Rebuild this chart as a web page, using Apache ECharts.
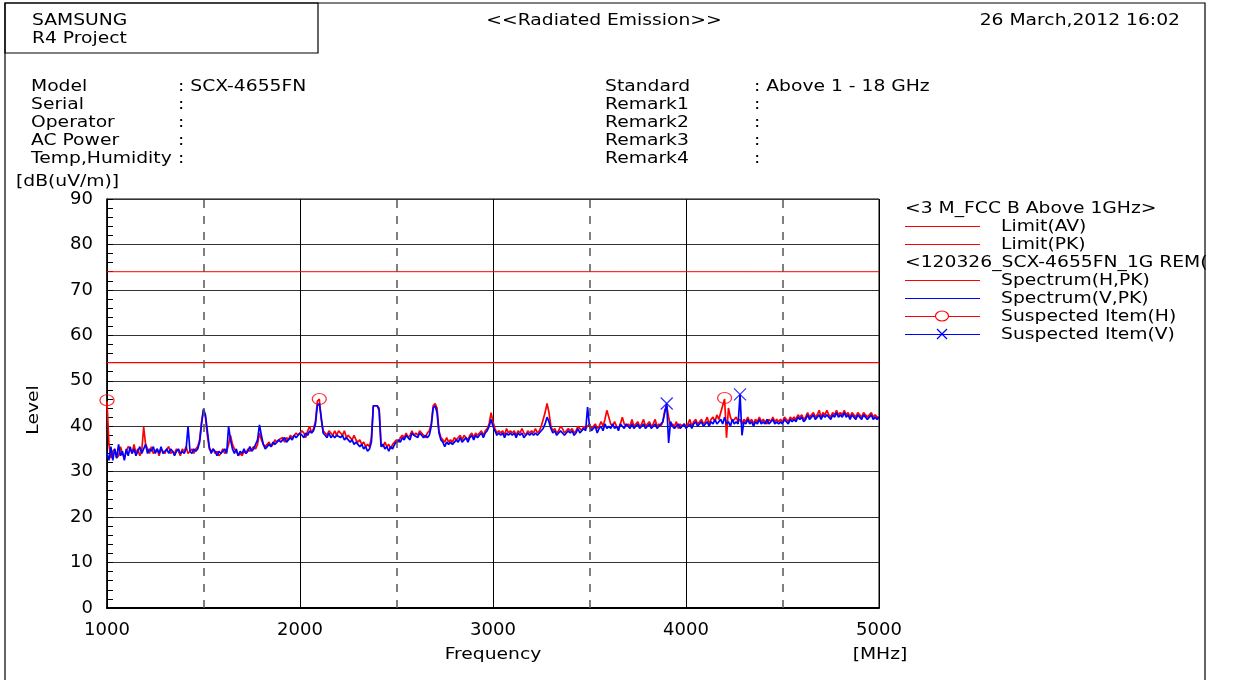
<!DOCTYPE html>
<html>
<head>
<meta charset="utf-8">
<script src="https://cdn.jsdelivr.net/npm/echarts@6/dist/echarts.min.js"></script>
<style>
  html, body { margin: 0; padding: 0; background: #fff; }
  #chart { width: 1243px; height: 680px; }
</style>
</head>
<body>
<div id="chart"></div>
<script>
// frequency sweep: 1000 .. 5000 MHz, one reading every 10 MHz
const freqStart = 1000
const freqStep = 10

// Spectrum(H,PK), dB(uV/m), one row = 100 MHz
const specH = [
  45.5, 36, 33, 34.5, 35, 33, 33.5, 35.5, 34, 33,
  34.5, 35.5, 35, 34, 36, 34, 35, 33.5, 34.5, 39.8,
  36, 35, 34, 35.5, 34, 34.5, 35, 33.5, 35, 34.5,
  34, 35, 35.5, 34, 34.5, 34, 35, 34.5, 33.5, 35,
  34.5, 35.5, 34, 34.5, 35, 34, 35, 35.5, 37, 41,
  43.5, 42, 38, 35, 34.5, 35, 34, 34.5, 33.5, 34,
  35, 34, 34.5, 36, 38, 36, 35, 34.5, 33.5, 34,
  33.5, 34.5, 34, 35, 34.5, 35, 35.5, 35, 36, 38.5,
  37, 36, 35.5, 36, 36.5, 35.5, 36, 37, 36.5, 37,
  37, 37.5, 36.5, 37.5, 37, 38, 37.5, 38, 38.5, 38,
  38, 39, 38.5, 37.5, 39, 40, 38.5, 39.5, 41, 45.5,
  46, 41.5, 39, 38.5, 38, 39, 38.5, 38, 39, 38,
  39, 38.5, 38, 39, 37.5, 38, 37.5, 37, 38, 37,
  36.5, 37, 36, 36.5, 35.5, 36, 35.5, 37.5, 44.5, 44.7,
  44.5, 44, 36, 35.5, 36.5, 35.5, 36, 35, 36, 36.5,
  37, 36.5, 37.5, 38, 37.5, 38.5, 37.5, 38, 39, 38,
  38.5, 38, 39, 38.5, 38, 37.5, 38.5, 39, 40.5, 44.5,
  45, 44, 39, 37.5, 37, 36.5, 37.5, 36.5, 37, 36.5,
  37.5, 37, 37.5, 38, 37, 38, 37.5, 37, 38, 38.5,
  37.5, 38.5, 38, 38.5, 39, 38, 39, 39.5, 40.5, 43,
  41, 39.5, 38.5, 39, 38.5, 39, 38, 39.5, 38.5, 39,
  38.5, 39, 38, 39, 38.5, 39.5, 38.5, 38, 39, 38.5,
  39, 38.5, 39.5, 38.5, 39, 40, 41.5, 43, 45, 43,
  40, 39, 39.5, 38.5, 39, 40, 39.5, 38.5, 39, 39.5,
  39, 39.5, 38.5, 39, 40, 39.5, 39, 40, 39.5, 40,
  40.5, 39.5, 40, 40.5, 39.5, 40, 41, 40, 41.5, 43.5,
  42, 40.5, 40, 41, 40, 39.5, 40.5, 42, 40.5, 40,
  40.5, 40, 41.5, 40, 40.5, 41, 40, 40.5, 41.5, 40,
  40.5, 41, 40, 40.5, 41.5, 40, 40.5, 40, 41, 43.5,
  44.5, 42, 40, 40.5, 40, 41, 39.5, 40.5, 40, 40.5,
  40, 40.5, 41.5, 40, 41, 41.5, 40.5, 41, 41.5, 40.5,
  41, 42, 40.5, 41.5, 42, 41, 42.5, 41.5, 43, 44.5,
  46, 37.5, 44, 42, 41, 41.5, 42, 41, 41.5, 40.5,
  41.5, 41, 42, 41, 41.5, 40.5, 41.5, 41, 42, 41,
  41.5, 41, 40.5, 41.5, 41, 42, 41, 41.5, 41, 41.5,
  41, 42, 41.5, 41, 42, 41.5, 42, 41.5, 42.5, 42,
  42.5, 41.5, 42, 43, 42, 42.5, 43, 42, 42.5, 43.5,
  42, 43, 42.5, 43.5, 42.5, 42, 43, 42.5, 43.5, 42.5,
  43, 42.5, 43.5, 42.5, 43, 42, 43, 42.5, 42, 43,
  42.5, 42, 43, 42.5, 42, 42.5, 43, 42, 42.5, 42,
  42
]

// Spectrum(V,PK), dB(uV/m), one row = 100 MHz
const specV = [
  34, 32.5, 35.5, 32.5, 35, 33, 36, 33.5, 34.5, 32.5,
  35, 33.5, 35.5, 34, 35, 33.5, 34.5, 35.5, 34, 35,
  36, 34, 35, 34.5, 35.5, 34, 35, 34, 35.5, 34,
  34.5, 35, 34, 35, 34.5, 33.5, 34.5, 35, 34, 34.5,
  34, 35, 40, 34.5, 34, 35, 34.5, 35, 36.5, 40.5,
  43.8, 42.5, 39, 35.5, 34, 35, 34.5, 33.5, 34.5, 34,
  34.5, 35, 34, 40, 37, 35, 34, 35, 33.5, 34.5,
  34, 35, 34, 34.5, 35.5, 34.5, 35, 36, 37, 40.3,
  38, 36, 35, 35.5, 36, 35.5, 36.5, 36, 36.5, 37,
  36.5, 37, 37.5, 36.5, 37, 37.5, 37, 38, 37.5, 38,
  38.5, 38, 37.5, 38.5, 38, 39, 38.5, 39, 40.5, 44.5,
  45, 42, 38.5, 38, 37.5, 38.5, 37.5, 38, 37.5, 38,
  38, 37.5, 38, 37, 37.5, 37, 36.5, 37, 36, 36.5,
  36, 35.5, 36, 35, 35.5, 34.5, 35, 36.5, 44.5, 44.5,
  44.5, 43.5, 35.5, 36, 35, 35.5, 34.5, 35.5, 35, 36,
  36.5, 37, 36.5, 37.5, 37, 38, 37.5, 37, 38.5, 38,
  38, 37.5, 38.5, 38, 37.5, 38, 37.5, 38, 40, 44,
  44.5, 43, 38.5, 37, 36.5, 35.5, 36.5, 36, 36.5, 36,
  36.5, 37, 36.5, 37.5, 36.5, 37, 37.5, 36.5, 37.5, 38,
  37, 38, 37.5, 38, 38.5, 37.5, 38.5, 39, 40, 41.5,
  40, 39, 38, 38.5, 38, 38.5, 37.5, 38.5, 38, 38.5,
  38, 38.5, 37.5, 38.5, 38, 38.5, 37.5, 38, 38.5, 38,
  38.5, 38, 38.5, 38, 38.5, 39, 39.5, 40.5, 42, 41,
  39.5, 38.5, 39, 38, 38.5, 39, 38.5, 38, 38.5, 39,
  38.5, 39, 38, 38.5, 39.5, 38.5, 39, 39.5, 39, 44.2,
  40, 39, 39.5, 40, 38.5, 39.5, 40, 39, 40.5, 39.5,
  40, 39.5, 40.5, 39.5, 40, 39, 40.5, 40, 39.5, 40.5,
  40, 39.5, 40.5, 39.5, 40, 40.5, 39.5, 40, 40.5, 39.5,
  40, 40.5, 39.5, 40, 40.5, 39.5, 40, 40.5, 41, 43,
  45, 36.3, 41, 40, 39.5, 40, 40.5, 39.5, 40, 40.5,
  39.5, 40, 40.5, 39.5, 40.5, 41, 40, 40.5, 41, 40,
  40.5, 41, 40, 41, 40.5, 41.5, 40.5, 41, 41.5, 40.5,
  42, 40.5, 41, 40, 41.5, 40.5, 41, 40.5, 47, 38,
  41, 40.5, 41.5, 40.5, 41, 40, 41, 40.5, 41.5, 40.5,
  41, 40.5, 41.5, 40.5, 41, 41.5, 40.5, 41, 40.5, 41,
  40.5, 41.5, 41, 40.5, 41.5, 41, 41.5, 41, 42, 41.5,
  42, 41, 41.5, 42.5, 41.5, 42, 42.5, 41.5, 42, 42.5,
  41.5, 42.5, 42, 42.5, 42, 41.5, 42.5, 42, 43, 42,
  42.5, 42, 43, 42, 42.5, 41.5, 42.5, 42, 41.5, 42.5,
  42, 41.5, 42.5, 42, 41.5, 42, 42.5, 41.5, 42, 41.5,
  42
]

// suspected items [MHz, dB(uV/m)]
const suspectH = [[1000, 45.7], [2100, 46], [4200, 46.2]]
const suspectV = [[3900, 45], [4280, 47]]

// limits of 3 M_FCC B Above 1GHz
const limitAV = 54
const limitPK = 74

const dashedFreqs = [1500, 2500, 3500, 4500]

const infoLeft = [
  ['Model', ': SCX-4655FN'],
  ['Serial', ':'],
  ['Operator', ':'],
  ['AC Power', ':'],
  ['Temp,Humidity', ':']
]
const infoRight = [
  ['Standard', ': Above 1 - 18 GHz'],
  ['Remark1', ':'],
  ['Remark2', ':'],
  ['Remark3', ':'],
  ['Remark4', ':']
]

const FONT = '"DejaVu Sans", sans-serif'
const SX = 1.17

const toPairs = arr => arr.map((v, i) => [freqStart + i * freqStep, v])

function txt(x, y, text, align) {
  return {
    type: 'text', x: x, y: y, scaleX: SX, z: 10,
    style: {
      text: text, fill: '#000', font: '16px ' + FONT,
      textAlign: align || 'left', textVerticalAlign: 'middle'
    }
  }
}

const graphics = []
// frame + header box
graphics.push({type: 'rect', shape: {x: 5, y: 3, width: 1200, height: 720},
  style: {fill: 'none', stroke: '#000', lineWidth: 1.2}, z: 20})
graphics.push({type: 'rect', shape: {x: 5, y: 3, width: 313, height: 50},
  style: {fill: 'none', stroke: '#000', lineWidth: 1.2}, z: 20})
graphics.push(txt(32, 21, 'SAMSUNG'))
graphics.push(txt(32, 39, 'R4 Project'))
graphics.push(txt(604, 21, '<<Radiated Emission>>', 'center'))
graphics.push(txt(1180, 21, '26 March,2012 16:02', 'right'))

infoLeft.forEach((row, i) => {
  graphics.push(txt(31, 87 + i * 18, row[0]))
  graphics.push(txt(178, 87 + i * 18, row[1]))
})
infoRight.forEach((row, i) => {
  graphics.push(txt(605, 87 + i * 18, row[0]))
  graphics.push(txt(754, 87 + i * 18, row[1]))
})
graphics.push(txt(16, 182, '[dB(uV/m)]'))
graphics.push({
  type: 'text', x: 34, y: 410, rotation: Math.PI / 2, scaleX: SX,
  style: {text: 'Level', fill: '#000', font: '16px ' + FONT, textAlign: 'center', textVerticalAlign: 'middle'}
})
graphics.push(txt(880, 655, '[MHz]', 'center'))
graphics.push(txt(493, 655, 'Frequency', 'center'))

// legend
const legendRows = [
  {y: 209, head: '<3 M_FCC B Above 1GHz>'},
  {y: 226, color: '#ff0000', label: 'Limit(AV)'},
  {y: 244, color: '#ff0000', label: 'Limit(PK)'},
  {y: 263, head: '<120326_SCX-4655FN_1G REM('},
  {y: 280, color: '#ff0000', label: 'Spectrum(H,PK)'},
  {y: 298, color: '#0000ff', label: 'Spectrum(V,PK)'},
  {y: 316, color: '#ff0000', label: 'Suspected Item(H)', mark: 'o'},
  {y: 334, color: '#0000ff', label: 'Suspected Item(V)', mark: 'x'}
]
legendRows.forEach(r => {
  if (r.head) {
    graphics.push(txt(905, r.y, r.head))
    return
  }
  graphics.push({type: 'line', shape: {x1: 905, y1: r.y + 0.5, x2: 980, y2: r.y + 0.5},
    style: {stroke: r.color, lineWidth: 1}})
  if (r.mark === 'o') {
    graphics.push({type: 'ellipse', shape: {cx: 942, cy: r.y, rx: 6.5, ry: 5},
      style: {fill: '#fff', stroke: r.color, lineWidth: 1.2}})
  } else if (r.mark === 'x') {
    graphics.push({type: 'polyline', shape: {points: [[937, r.y - 5], [947, r.y + 5]]},
      style: {stroke: r.color, lineWidth: 1.2}})
    graphics.push({type: 'polyline', shape: {points: [[947, r.y - 5], [937, r.y + 5]]},
      style: {stroke: r.color, lineWidth: 1.2}})
  }
  graphics.push(txt(1001, r.y + 1, r.label))
})

const chart = echarts.init(document.getElementById('chart'))
chart.setOption({
  animation: false,
  backgroundColor: '#fff',
  textStyle: {fontFamily: FONT},
  grid: {left: 107, top: 199, right: 364, bottom: 72, show: true, borderColor: '#000', borderWidth: 1},
  xAxis: {
    type: 'value', min: 1000, max: 5000, interval: 1000,
    axisLine: {lineStyle: {color: '#000', width: 2}},
    axisTick: {show: false},
    axisLabel: {color: '#000', fontSize: 18, margin: 13, fontFamily: FONT, formatter: v => String(v)},
    splitLine: {show: true, lineStyle: {color: '#000', width: 1}}
  },
  yAxis: {
    type: 'value', min: 0, max: 90, interval: 10,
    axisLine: {show: true, lineStyle: {color: '#000', width: 1.5}},
    axisTick: {show: true, inside: true, length: 6, lineStyle: {color: '#000'}},
    minorTick: {show: true, splitNumber: 5, length: 6, lineStyle: {color: '#000'}},
    axisLabel: {color: '#000', fontSize: 18, margin: 14, fontFamily: FONT},
    splitLine: {show: true, lineStyle: {color: '#333', width: 1}}
  },
  graphic: graphics,
  series: [
    {
      name: 'Limit(AV)', type: 'line', symbol: 'none', silent: true,
      data: [[1000, limitAV], [5000, limitAV]],
      lineStyle: {color: '#ff0000', width: 1.2},
      markLine: {
        silent: true, symbol: 'none', label: {show: false},
        lineStyle: {color: '#555', type: [8, 8], width: 1.5},
        data: dashedFreqs.map(f => ({xAxis: f}))
      }
    },
    {
      name: 'Limit(PK)', type: 'line', symbol: 'none', silent: true,
      data: [[1000, limitPK], [5000, limitPK]],
      lineStyle: {color: '#ff0000', width: 1}
    },
    {
      name: 'Spectrum(H,PK)', type: 'line', symbol: 'none',
      data: toPairs(specH),
      lineStyle: {color: '#ff0000', width: 1.7}
    },
    {
      name: 'Spectrum(V,PK)', type: 'line', symbol: 'none',
      data: toPairs(specV),
      lineStyle: {color: '#0000ff', width: 1.7}
    },
    {
      name: 'Suspected Item(H)', type: 'scatter', symbol: 'circle', symbolSize: [14, 11],
      data: suspectH,
      itemStyle: {color: 'rgba(0,0,0,0)', borderColor: '#ff0000', borderWidth: 1.2}
    },
    {
      name: 'Suspected Item(V)', type: 'scatter',
      symbol: 'path://M0,0L10,10M10,0L0,10', symbolSize: 12,
      data: suspectV,
      itemStyle: {color: 'rgba(0,0,0,0)', borderColor: '#0000ff', borderWidth: 1.3}
    }
  ]
})
</script>
</body>
</html>
